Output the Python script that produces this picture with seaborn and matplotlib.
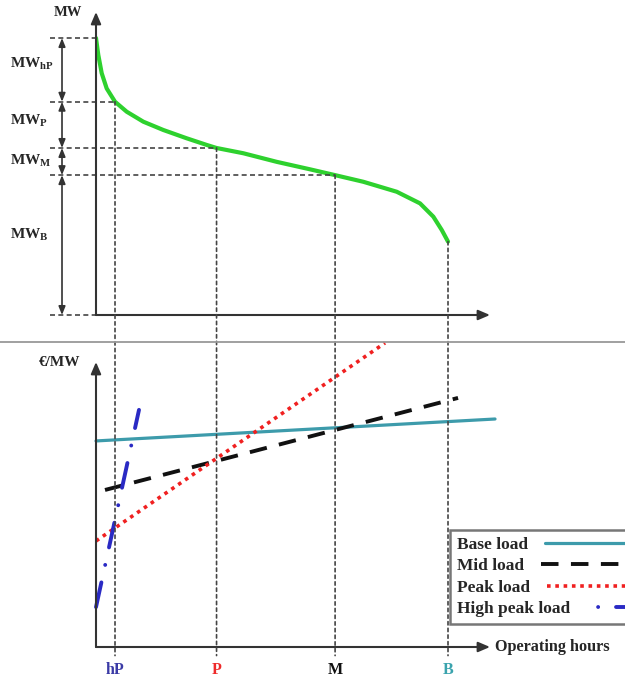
import matplotlib
matplotlib.use("Agg")
from matplotlib import pyplot as plt
from matplotlib.patches import ConnectionPatch
from matplotlib.lines import Line2D
from matplotlib.font_manager import FontProperties
import pandas as pd
import seaborn as sns

# load duration curve (hours, MW)
curve_hours = [0, 57, 142, 266, 473, 764, 1177, 1675, 2257, 2755, 3000, 3666, 4497, 5326,
               5950, 6653, 7484, 8064, 8395, 8604, 8760]
curve_mw = [100, 93.9, 87.3, 81.8, 77.0, 73.4, 69.8, 66.8, 63.8, 61.4, 60.3, 58.4, 55.3, 52.6,
            50.5, 48.1, 44.5, 40.3, 35.5, 30.7, 26.5]

# thresholds on the hours axis and the MW levels they cut
tick_names = ["hP", "P", "M", "B"]
tick_hours = [473, 3000, 5950, 8760]
tick_colors = ["#3b3ba6", "#ee2a2a", "#111111", "#3aa3ad"]
level_names = [r"$\mathbf{MW_{hP}}$", r"$\mathbf{MW_{P}}$", r"$\mathbf{MW_{M}}$", r"$\mathbf{MW_{B}}$"]
level_mw = [100, 77.0, 60.3, 50.5, 0]
level_end_hours = [0, 473, 3000, 5950, 0]

# screening curves (hours, €/MW)
base_hours = [0, 9930]
base_cost = [72.3, 80.0]
mid_hours = [224, 9010]
mid_cost = [55.1, 87.4]
peak_hours = [0, 7193]
peak_cost = [37.2, 106.7]
hpeak_hours = [0, 1070]
hpeak_cost = [14.0, 83.2]
series_names = ["Base load", "Mid load", "Peak load", "High peak load"]

sns.set_style("white")
plt.rcParams["font.family"] = ["Liberation Serif", "DejaVu Serif"]
plt.rcParams["font.weight"] = "bold"
plt.rcParams["mathtext.fontset"] = "custom"
plt.rcParams["mathtext.bf"] = "Liberation Serif:bold"
plt.rcParams["mathtext.rm"] = "Liberation Serif:bold"

fig = plt.figure(figsize=(6.25, 6.79), dpi=100)
ax_top = fig.add_axes([96 / 625, 364 / 679, 394 / 625, 303 / 679])
ax_bot = fig.add_axes([96 / 625, 32 / 679, 394 / 625, 285 / 679])

axis_col = "#333333"
ref_col = "#444444"

for ax in (ax_top, ax_bot):
    for s in ax.spines.values():
        s.set_visible(False)
    ax.set_xlim(0, 9805)
    ax.set_yticks([])
    ax.annotate("", xy=(1, 0), xytext=(0, 0), xycoords="axes fraction",
                arrowprops=dict(arrowstyle="-|>,head_length=0.7,head_width=0.3", color=axis_col, lw=1.5,
                                shrinkA=0, shrinkB=0))
    ax.annotate("", xy=(0, 1), xytext=(0, 0), xycoords="axes fraction",
                arrowprops=dict(arrowstyle="-|>,head_length=0.7,head_width=0.3", color=axis_col, lw=1.5,
                                shrinkA=0, shrinkB=0))

# top panel
ax_top.set_ylim(0, 109.4)
ax_top.set_xticks([])
sns.lineplot(x=curve_hours, y=curve_mw, ax=ax_top, color="#2ed12e", lw=3, sort=False)

for mw, h_end in zip(level_mw, level_end_hours):
    ax_top.plot([-1150, h_end], [mw, mw], color=ref_col, lw=1.2, ls=(0, (3, 2)), clip_on=False)

for i in range(4):
    ax_top.annotate("", xy=(-846, level_mw[i]), xytext=(-846, level_mw[i + 1]), xycoords="data",
                    arrowprops=dict(arrowstyle="<|-|>,head_length=0.5,head_width=0.2", color=axis_col,
                                    lw=1.2, shrinkA=0, shrinkB=0), annotation_clip=False)

label_y = [90.5, 70, 55.5, 29]
for name, y in zip(level_names, label_y):
    ax_top.text(-2150, y, name, fontsize=11, ha="left", va="center", clip_on=False)

ax_top.text(-350, 109.4, "MW", fontsize=10.5, ha="right", va="center", fontweight="bold")

# separator
fig.add_artist(Line2D([0, 1], [1 - 342 / 679, 1 - 342 / 679], transform=fig.transFigure,
                      color="#999999", lw=1.3))

# bottom panel
ax_bot.set_ylim(0, 100)
df = pd.concat([
    pd.DataFrame({"hours": base_hours, "cost": base_cost, "type": series_names[0]}),
    pd.DataFrame({"hours": mid_hours, "cost": mid_cost, "type": series_names[1]}),
    pd.DataFrame({"hours": peak_hours, "cost": peak_cost, "type": series_names[2]}),
    pd.DataFrame({"hours": hpeak_hours, "cost": hpeak_cost, "type": series_names[3]}),
])
styles = {
    series_names[0]: dict(color="#3d9bab", lw=2.3, ls="-", leg_ls="-", cap="butt"),
    series_names[1]: dict(color="#111111", lw=2.8, ls=(0, (4.5, 3.2)), leg_ls=(0, (4.5, 3.2)), cap="butt"),
    series_names[2]: dict(color="#f02020", lw=2.6, ls=(0, (1, 1.3)), leg_ls=(0, (1, 1.3)), cap="butt"),
    series_names[3]: dict(color="#2a2ac4", lw=2.8, ls=(0, (6.5, 4.6, 0.01, 4.6)),
                          leg_ls=(8.5, (6.5, 4.6, 0.01, 4.6)), cap="round"),
}
handles = []
for name in series_names:
    sub = df[df["type"] == name]
    st = styles[name]
    sns.lineplot(data=sub, x="hours", y="cost", ax=ax_bot, color=st["color"], lw=st["lw"],
                 linestyle=st["ls"], dash_capstyle=st["cap"], clip_on=False, legend=False)
    handles.append(Line2D([], [], color=st["color"], lw=st["lw"], ls=st["leg_ls"], dash_capstyle=st["cap"]))

ax_bot.set_xlabel("")
ax_bot.set_ylabel("")
ax_bot.set_xticks(tick_hours, tick_names)
ax_bot.tick_params(axis="x", length=0, pad=11, labelsize=11.5)
for lab, c in zip(ax_bot.get_xticklabels(), tick_colors):
    lab.set_color(c)
    lab.set_fontweight("bold")

ax_bot.text(1.012, 0, "Operating hours", transform=ax_bot.transAxes, fontsize=11.7,
            ha="left", va="center", fontweight="bold")
ax_bot.text(-0.04, 1.0, "€/MW", transform=ax_bot.transAxes, fontsize=11,
            ha="right", va="center", fontweight="bold")

# dotted connectors from the duration curve to the hours axis
curve_at = dict(zip(curve_hours, curve_mw))
for h in tick_hours:
    con = ConnectionPatch(xyA=(h, curve_at[h]), coordsA=ax_top.transData,
                          xyB=(h, -3), coordsB=ax_bot.transData,
                          color=ref_col, lw=1.2, ls=(0, (2, 2)))
    fig.add_artist(con)

leg_font = FontProperties(family="Liberation Serif", weight="bold", size=12.5)
leg = fig.legend(handles, series_names, loc="upper left", bbox_to_anchor=(450 / 625, 1 - 530 / 679),
                 markerfirst=False, handlelength=5, fancybox=False, frameon=True,
                 prop=leg_font, borderpad=0.4, labelspacing=0.3, handletextpad=1.0, borderaxespad=0)
for col in leg._legend_handle_box.get_children():
    col.align = "left"
for t in leg.get_texts():
    t.set_fontweight("bold")
leg.get_frame().set_edgecolor("#555555")
leg.get_frame().set_linewidth(1.8)

fig.savefig("out.png", dpi=100)
